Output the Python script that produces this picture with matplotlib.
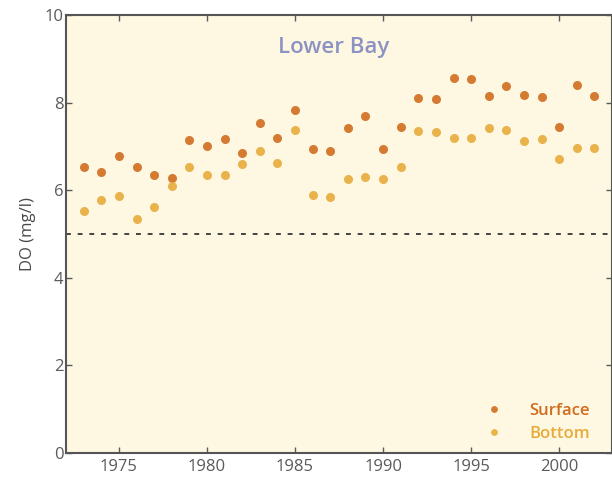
import matplotlib
matplotlib.use('Agg')
from matplotlib import pyplot as plt
import numpy as np

plt.rcParams['font.family'] = ['Open Sans', 'DejaVu Sans']

years = np.arange(1973, 2003)

# surface and bottom dissolved oxygen
surface = [6.54, 6.42, 6.77, 6.54, 6.35, 6.27, 7.15, 7.02, 7.17, 6.84,
           7.53, 7.18, 7.82, 6.93, 6.89, 7.43, 7.69, 6.93, 7.44, 8.10,
           8.08, 8.57, 8.54, 8.16, 8.38, 8.17, 8.12, 7.45, 8.39, 8.14]
bottom = [5.53, 5.78, 5.87, 5.34, 5.62, 6.10, 6.52, 6.35, 6.35, 6.60,
          6.90, 6.61, 7.37, 5.89, 5.85, 6.26, 6.29, 6.26, 6.52, 7.34,
          7.32, 7.18, 7.18, 7.43, 7.37, 7.13, 7.17, 6.71, 6.96, 6.96]

threshold = 5
xticks = [1975, 1980, 1985, 1990, 1995, 2000]
yticks = [0, 2, 4, 6, 8, 10]

surf_col = '#d06c1e'
bot_col = '#e8ab3a'

fig = plt.figure(figsize=(6.12, 4.82), dpi=100)
ax = fig.add_axes([0.108, 0.060, 0.892, 0.909])
ax.set_facecolor('#fef7e2')

ax.plot(years, surface, 'o', color=surf_col, ms=6.5, mec='none', alpha=0.9, label='Surface')
ax.plot(years, bottom, 'o', color=bot_col, ms=6.5, mec='none', alpha=0.9, label='Bottom')
ax.axhline(threshold, color='#444444', lw=1.4, ls=(0, (2.5, 3.5)))

ax.set_xlim(1972, 2003)
ax.set_ylim(0, 10)
ax.set_xticks(xticks)
ax.set_yticks(yticks)
ax.tick_params(direction='in', length=4, width=1, colors='#5a5a5a',
               labelsize=12, top=True, right=True, pad=4)
ax.tick_params(axis='y', pad=2)
for s in ax.spines.values():
    s.set_color('#555555')
    s.set_linewidth(1.5)

ax.set_ylabel('DO (mg/l)', fontsize=12, color='#4a4a4a', labelpad=6)

ax.text(0.49, 0.925, 'Lower Bay', transform=ax.transAxes, ha='center',
        va='center', fontsize=16, fontweight='semibold', color='#8c93c2')

leg = ax.legend(loc='lower right', frameon=False, markerscale=0.75,
                handlelength=1.0, handletextpad=1.6, labelspacing=0.45,
                fontsize=12, borderaxespad=0.0, bbox_to_anchor=(0.972, 0.01),
                labelcolor=[surf_col, bot_col])
for t in leg.get_texts():
    t.set_fontweight('semibold')

fig.savefig('out.png', dpi=100)
